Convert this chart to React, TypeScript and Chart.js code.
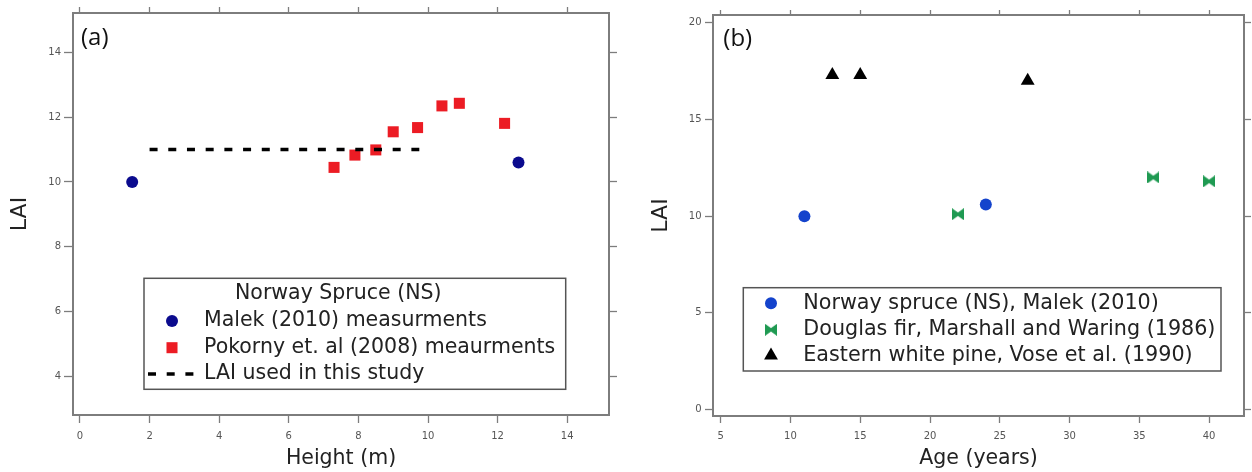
import React, { useEffect, useRef } from 'react';
import { Chart, registerables } from 'chart.js';
import { drawPoint } from 'chart.js/helpers';

Chart.register(...registerables);

// ---------- Panel (a): LAI vs height ----------
const malekHeight = [1.5, 12.6];
const malekLAI = [10.0, 10.6];
const pokornyHeight = [7.3, 7.9, 8.5, 9.0, 9.7, 10.4, 10.9, 12.2];
const pokornyLAI = [10.45, 10.83, 10.99, 11.55, 11.68, 12.35, 12.43, 11.81];
const studyHeight = [2.0, 9.75];
const studyLAI = [11.0, 11.0];
const heightTicks = [0, 2, 4, 6, 8, 10, 12, 14];
const laiTicksA = [4, 6, 8, 10, 12, 14];
const heightRange = [-0.2, 15.2];
const laiRangeA = [2.8, 15.22];

// ---------- Panel (b): LAI vs age ----------
const nsAge = [11, 24];
const nsLAI = [10.0, 10.6];
const dfAge = [22, 36, 40];
const dfLAI = [10.1, 12.0, 11.8];
const ewpAge = [13, 15, 27];
const ewpLAI = [17.3, 17.3, 17.0];
const ageTicks = [5, 10, 15, 20, 25, 30, 35, 40];
const laiTicksB = [0, 5, 10, 15, 20];
const ageRange = [4.45, 42.5];
const laiRangeB = [-0.33, 20.4];

const AXIS_COLOR = '#7d7d7d';
const BIG_FAMILY = "'DejaVu Sans', sans-serif";
const TICK_FONT = { family: BIG_FAMILY, size: 10 };

const toPoints = (xs: number[], ys: number[]) => xs.map((x, i) => ({ x, y: ys[i] }));

function makeBowtie(color: string, w: number, h: number) {
  const c = document.createElement('canvas');
  c.width = w;
  c.height = h;
  const g = c.getContext('2d')!;
  g.fillStyle = color;
  g.beginPath();
  g.moveTo(0, 0);
  g.lineTo(w / 2, h * 0.36);
  g.lineTo(w, 0);
  g.lineTo(w, h);
  g.lineTo(w / 2, h * 0.64);
  g.lineTo(0, h);
  g.closePath();
  g.fill();
  return c;
}

type AxisCfg = {
  position: 'top' | 'bottom' | 'left' | 'right';
  range: number[];
  tickValues: number[];
  size: number;
  tickLength: number;
  showLabels: boolean;
  labelPadding?: number;
  title?: any;
};

function makeAxis(c: AxisCfg) {
  const horizontal = c.position === 'top' || c.position === 'bottom';
  return {
    type: 'linear',
    position: c.position,
    min: c.range[0],
    max: c.range[1],
    afterBuildTicks: (s: any) => {
      s.ticks = c.tickValues.map((v) => ({ value: v }));
    },
    afterFit: (s: any) => {
      if (horizontal) s.height = c.size;
      else s.width = c.size;
    },
    grid: {
      drawOnChartArea: false,
      drawTicks: true,
      tickLength: c.tickLength,
      tickColor: AXIS_COLOR,
      tickWidth: 1.3,
    },
    border: { display: true, color: AXIS_COLOR, width: 2 },
    ticks: {
      display: c.showLabels,
      font: TICK_FONT,
      color: '#555',
      padding: c.labelPadding ?? 3,
      maxRotation: 0,
      autoSkip: false,
      callback: (v: any) => String(v),
    },
    title: c.title ?? { display: false },
  };
}

type LegendSpec = {
  box: { x: number; y: number; w: number; h: number };
  title?: string;
  titleX?: number;
  titleY?: number;
  markerX: number;
  textX: number;
  rows: number[];
  lineX: number[];
  fontSize: number;
  tag: string;
  tagX: number;
  tagY: number;
};

function legendPlugin(spec: LegendSpec) {
  return {
    id: 'customLegend',
    afterDraw(chart: any) {
      const ctx = chart.ctx as CanvasRenderingContext2D;
      ctx.save();
      const b = spec.box;
      ctx.fillStyle = '#ffffff';
      ctx.fillRect(b.x, b.y, b.w, b.h);
      ctx.strokeStyle = '#555';
      ctx.lineWidth = 1.5;
      ctx.strokeRect(b.x, b.y, b.w, b.h);
      ctx.font = `${spec.fontSize}px ${BIG_FAMILY}`;
      ctx.textBaseline = 'middle';
      ctx.textAlign = 'left';
      if (spec.title) {
        ctx.fillStyle = '#222';
        ctx.fillText(spec.title, spec.titleX!, spec.titleY!);
      }
      chart.data.datasets.forEach((ds: any, i: number) => {
        const y = spec.rows[i];
        if (ds.showLine) {
          ctx.save();
          ctx.strokeStyle = ds.borderColor;
          ctx.lineWidth = ds.borderWidth;
          ctx.setLineDash(ds.borderDash);
          ctx.beginPath();
          ctx.moveTo(spec.lineX[0], y);
          ctx.lineTo(spec.lineX[1], y);
          ctx.stroke();
          ctx.restore();
        } else {
          ctx.fillStyle = ds.pointBackgroundColor;
          drawPoint(
            ctx,
            { pointStyle: ds.pointStyle, radius: ds.pointRadius, rotation: 0, borderWidth: 0 } as any,
            spec.markerX,
            y
          );
        }
        ctx.fillStyle = '#222';
        ctx.font = `${spec.fontSize}px ${BIG_FAMILY}`;
        ctx.fillText(ds.label, spec.textX, y);
      });
      ctx.fillStyle = '#111';
      ctx.font = `24px 'Open Sans', sans-serif`;
      ctx.fillText(spec.tag, spec.tagX, spec.tagY);
      ctx.restore();
    },
  };
}

function baseOptions(scales: any) {
  return {
    responsive: false,
    animation: false,
    devicePixelRatio: 1,
    events: [],
    layout: { padding: 0 },
    plugins: { legend: { display: false }, tooltip: { enabled: false } },
    scales,
  };
}

function bottomTitle(text: string) {
  return {
    display: true,
    text,
    color: '#222',
    font: { family: BIG_FAMILY, size: 20.5 },
    padding: { top: 0, bottom: 1 },
  };
}

function leftTitle(text: string, pad: number) {
  return {
    display: true,
    text,
    color: '#222',
    font: { family: BIG_FAMILY, size: 22 },
    padding: { top: pad, bottom: 0 },
  };
}

export default function App() {
  const refA = useRef<HTMLCanvasElement>(null);
  const refB = useRef<HTMLCanvasElement>(null);

  useEffect(() => {
    const bowtie = makeBowtie('#1f9a52', 12, 12);

    const chartA = new Chart(refA.current!, {
      type: 'scatter',
      data: {
        datasets: [
          {
            label: 'Malek (2010) measurments',
            data: toPoints(malekHeight, malekLAI),
            pointStyle: 'circle',
            pointRadius: 6,
            pointBackgroundColor: '#0b0b8e',
            pointBorderWidth: 0,
            order: 1,
          },
          {
            label: 'Pokorny et. al (2008) meaurments',
            data: toPoints(pokornyHeight, pokornyLAI),
            pointStyle: 'rect',
            pointRadius: 7.8,
            pointBackgroundColor: '#ec1c24',
            pointBorderWidth: 0,
            order: 1,
          },
          {
            label: 'LAI used in this study',
            data: toPoints(studyHeight, studyLAI),
            showLine: true,
            borderColor: '#000',
            borderWidth: 3.5,
            borderDash: [8, 10.7],
            borderCapStyle: 'butt',
            pointRadius: 0,
            fill: false,
            order: 0,
          },
        ],
      } as any,
      options: baseOptions({
        x: makeAxis({
          position: 'bottom', range: heightRange, tickValues: heightTicks, size: 57,
          tickLength: 8, showLabels: true, labelPadding: 7, title: bottomTitle('Height (m)'),
        }),
        xTop: makeAxis({
          position: 'top', range: heightRange, tickValues: heightTicks, size: 13,
          tickLength: 6, showLabels: false,
        }),
        y: makeAxis({
          position: 'left', range: laiRangeA, tickValues: laiTicksA, size: 73,
          tickLength: 9, showLabels: true, labelPadding: 3, title: leftTitle('LAI', 7),
        }),
        yRight: makeAxis({
          position: 'right', range: laiRangeA, tickValues: laiTicksA, size: 17,
          tickLength: 8, showLabels: false,
        }),
      }) as any,
      plugins: [
        legendPlugin({
          box: { x: 144, y: 278.3, w: 421.7, h: 111 },
          title: 'Norway Spruce (NS)',
          titleX: 235,
          titleY: 294,
          markerX: 172,
          textX: 204,
          rows: [321, 347.7, 374],
          lineX: [148, 195],
          fontSize: 20.5,
          tag: '(a)',
          tagX: 81,
          tagY: 38,
        }),
      ],
    });

    const chartB = new Chart(refB.current!, {
      type: 'scatter',
      data: {
        datasets: [
          {
            label: 'Norway spruce (NS), Malek (2010)',
            data: toPoints(nsAge, nsLAI),
            pointStyle: 'circle',
            pointRadius: 6,
            pointBackgroundColor: '#1443cc',
            pointBorderWidth: 0,
          },
          {
            label: 'Douglas fir, Marshall and Waring (1986)',
            data: toPoints(dfAge, dfLAI),
            pointStyle: bowtie,
            pointRadius: 6,
            pointBackgroundColor: '#1f9a52',
            pointBorderWidth: 0,
          },
          {
            label: 'Eastern white pine, Vose et al. (1990)',
            data: toPoints(ewpAge, ewpLAI),
            pointStyle: 'triangle',
            pointRadius: 8,
            pointBackgroundColor: '#000',
            pointBorderWidth: 0,
          },
        ],
      } as any,
      options: baseOptions({
        x: makeAxis({
          position: 'bottom', range: ageRange, tickValues: ageTicks, size: 56,
          tickLength: 7, showLabels: true, labelPadding: 7.5, title: bottomTitle('Age (years)'),
        }),
        xTop: makeAxis({
          position: 'top', range: ageRange, tickValues: ageTicks, size: 15,
          tickLength: 5, showLabels: false,
        }),
        y: makeAxis({
          position: 'left', range: laiRangeB, tickValues: laiTicksB, size: 87,
          tickLength: 8, showLabels: true, labelPadding: 3.5, title: leftTitle('LAI', 22.5),
        }),
        yRight: makeAxis({
          position: 'right', range: laiRangeB, tickValues: laiTicksB, size: 7,
          tickLength: 7, showLabels: false,
        }),
      }) as any,
      plugins: [
        legendPlugin({
          box: { x: 117.3, y: 287.7, w: 477.7, h: 83.3 },
          markerX: 145,
          textX: 177.3,
          rows: [303.3, 329.8, 355.5],
          lineX: [0, 0],
          fontSize: 20.7,
          tag: '(b)',
          tagX: 97.3,
          tagY: 39,
        }),
      ],
    });

    return () => {
      chartA.destroy();
      chartB.destroy();
    };
  }, []);

  return (
    <div style={{ position: 'absolute', left: 0, top: 0, width: 1252, height: 472, background: '#fff' }}>
      <canvas ref={refA} width={626} height={472} style={{ position: 'absolute', left: 0, top: 0 }} />
      <canvas ref={refB} width={626} height={472} style={{ position: 'absolute', left: 626, top: 0 }} />
    </div>
  );
}
